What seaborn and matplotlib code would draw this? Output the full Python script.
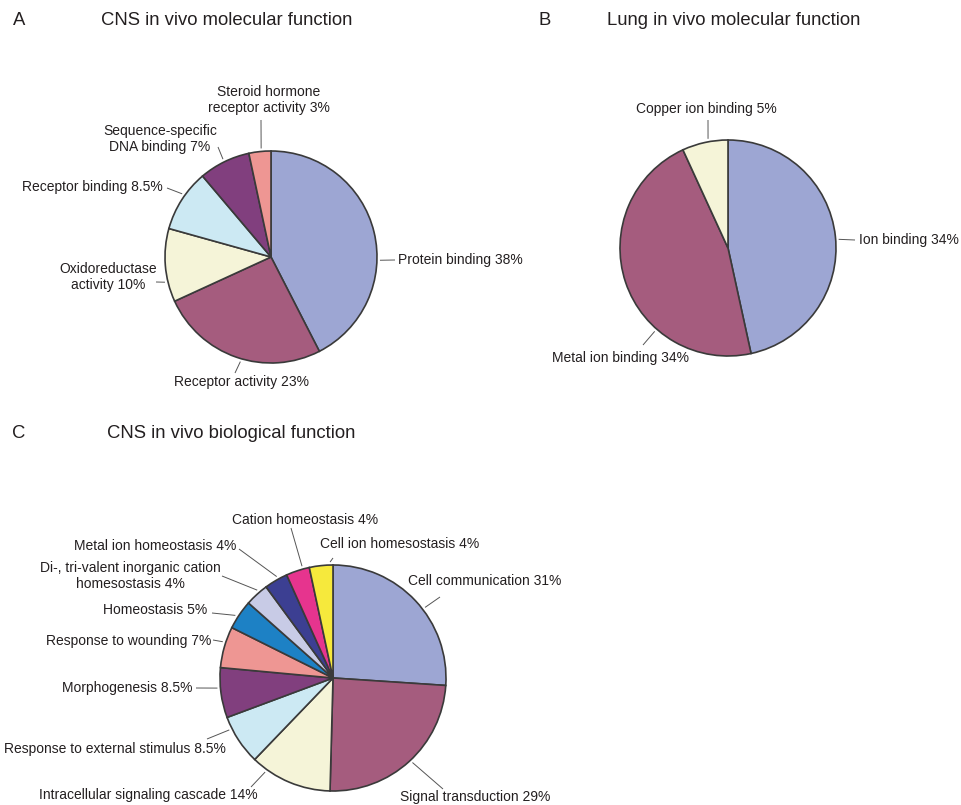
import numpy as np
import matplotlib
matplotlib.use("Agg")
import matplotlib.pyplot as plt
import seaborn as sns

# ---- data -------------------------------------------------------------
cns_mf_names = ["Protein binding", "Receptor activity", "Oxidoreductase\nactivity",
                "Receptor binding", "Sequence-specific\nDNA binding",
                "Steroid hormone\nreceptor activity"]
cns_mf_values = [38, 23, 10, 8.5, 7, 3]

lung_mf_names = ["Ion binding", "Metal ion binding", "Copper ion binding"]
lung_mf_values = [34, 34, 5]

cns_bf_names = ["Cell communication", "Signal transduction",
                "Intracellular signaling cascade", "Response to external stimulus",
                "Morphogenesis", "Response to wounding", "Homeostasis",
                "Di-, tri-valent inorganic cation\nhomesostasis",
                "Metal ion homeostasis", "Cation homeostasis",
                "Cell ion homesostasis"]
cns_bf_values = [31, 29, 14, 8.5, 8.5, 7, 5, 4, 4, 4, 4]

panel_titles = ["CNS in vivo molecular function", "Lung in vivo molecular function",
                "CNS in vivo biological function"]
panel_letters = ["A", "B", "C"]

# ---- colours ----------------------------------------------------------
mf_palette = sns.color_palette(["#9DA6D3", "#A55C7E", "#F5F4D8", "#CCE9F3",
                                "#813F7E", "#EE9693"])
lung_palette = sns.color_palette(["#9DA6D3", "#A55C7E", "#F5F4D8"])
bf_palette = sns.color_palette(["#9DA6D3", "#A55C7E", "#F5F4D8", "#CCE9F3",
                                "#813F7E", "#EE9693", "#1D81C5", "#C8CBE6",
                                "#3C3F92", "#E6348E", "#F6E93C"])

# ---- layout (pixel units, y measured from the top) ---------------------
W, H = 961, 805
# label layout: (position within wedge 0..1, text x, text y, ha, leader end x, leader end y)
mf_layout = [
    (0.60, 398, 260, "left", 395, 260),
    (0.47, 242, 382, "center", 235, 373),
    (0.28, 108, 277, "center", 156, 282),
    (0.58, 163, 187, "right", 167, 188),
    (0.50, 160, 139, "center", 218, 147),
    (0.57, 269, 100, "center", 261, 120),
]
lung_layout = [
    (0.51, 859, 240, "left", 855, 240),
    (0.32, 621, 358, "center", 643, 345),
    (0.58, 706, 109, "center", 708, 120),
]
bf_layout = [
    (0.56, 408, 581, "left", 440, 597),
    (0.49, 475, 797, "center", 443, 789),
    (0.81, 148, 795, "center", 251, 787),
    (0.76, 115, 749, "center", 207, 739),
    (0.60, 192, 688, "right", 196, 688),
    (0.61, 211, 641, "right", 213, 640),
    (0.41, 207, 610, "right", 212, 613),
    (0.63, 130, 576, "center", 222, 576),
    (0.60, 236, 546, "right", 239, 549),
    (0.72, 305, 520, "center", 291, 528),
    (0.88, 320, 544, "left", 333, 558),
]

sns.set_theme(style="white")
plt.rcParams["font.family"] = ["Liberation Sans", "DejaVu Sans"]
TEXT = "#231F20"
EDGE = "#3A3A3A"
LEADER = "#555555"

fig = plt.figure(figsize=(W / 100, H / 100), dpi=100)
ax = fig.add_axes([0, 0, 1, 1])


def fmt(v):
    return f"{v:g}%"


def draw_pie(names, values, palette, center, radius, layout):
    cx, cy = center
    wedges, _ = ax.pie(values, colors=palette, startangle=90, counterclock=False,
                       center=(cx, H - cy), radius=radius, frame=False,
                       wedgeprops=dict(edgecolor=EDGE, linewidth=1.2))
    for w, name, val, (f, tx, ty, ha, lx, ly) in zip(wedges, names, values, layout):
        ang = np.deg2rad(w.theta2 - f * (w.theta2 - w.theta1))
        px = cx + (radius + 3) * np.cos(ang)
        py = (H - cy) + (radius + 3) * np.sin(ang)
        ax.plot([px, lx], [py, H - ly], color=LEADER, lw=0.7, solid_capstyle="butt")
        ax.text(tx, H - ty, f"{name} {fmt(val)}", ha=ha, va="center",
                multialignment="center", fontsize=10, color=TEXT, linespacing=1.1)


draw_pie(cns_mf_names, cns_mf_values, mf_palette, (271, 257), 106, mf_layout)
draw_pie(lung_mf_names, lung_mf_values, lung_palette, (728, 248), 108, lung_layout)
draw_pie(cns_bf_names, cns_bf_values, bf_palette, (333, 678), 113, bf_layout)

# panel letters and titles
for letter, title, (lx, tx, ty) in zip(panel_letters, panel_titles,
                                        [(13, 101, 21), (538, 607, 21), (12, 107, 433)]):
    ax.text(lx, H - ty, letter, ha="left", va="center", fontsize=13.3, color=TEXT)
    ax.text(tx, H - ty, title, ha="left", va="center", fontsize=13.3, color=TEXT)

ax.set_xlim(0, W)
ax.set_ylim(0, H)
ax.set_aspect("equal")
ax.axis("off")
fig.savefig("out.png", dpi=100, facecolor="white")
